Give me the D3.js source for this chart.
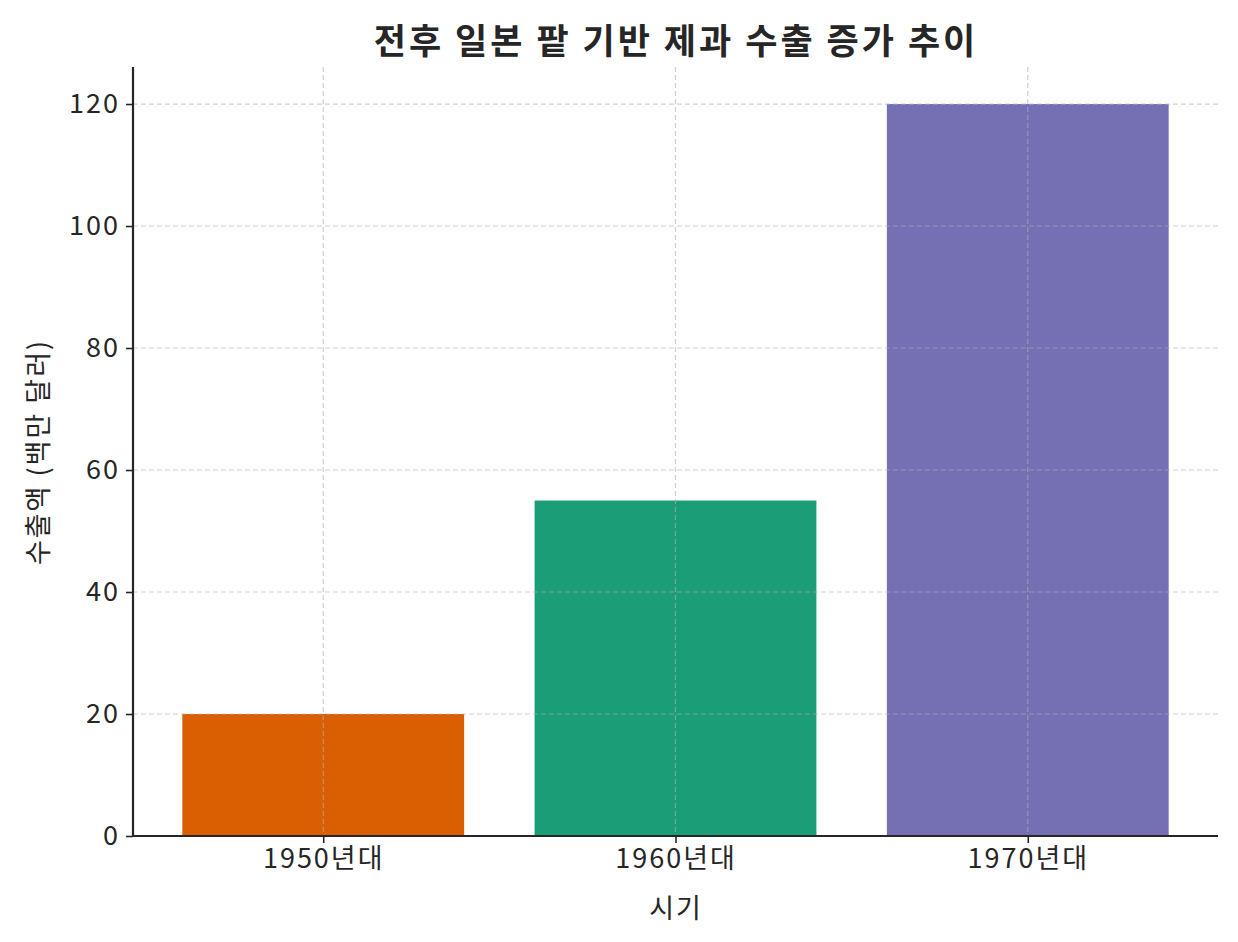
<!DOCTYPE html>
<html><head><meta charset="utf-8">
<script src="https://cdn.jsdelivr.net/npm/d3@7"></script>
<style>body{margin:0;background:#fff}text{font-family:"Noto Sans CJK KR","Noto Sans",sans-serif;fill:#262626}</style>
</head><body><svg id="c" width="1238" height="942"></svg>
<script>
var categories = ["1950년대", "1960년대", "1970년대"];
var exportValues = [20, 55, 120];
var barColors = ["#d95f02", "#1b9e77", "#7570b3"];
var yTicks = [0, 20, 40, 60, 80, 100, 120];

var svg = d3.select("#c");
var pLeft = 133, pRight = 1218, pTop = 67, pBottom = 836;
var x = d3.scaleLinear().domain([-0.54, 2.54]).range([pLeft, pRight]);
var y = d3.scaleLinear().domain([0, 126.07]).range([pBottom, pTop]);
var bw = x(0.8) - x(0);

// bars
svg.selectAll(".bar").data(exportValues).enter().append("rect")
	.attr("x", (d, i) => x(i) - bw / 2).attr("width", bw)
	.attr("y", d => y(d)).attr("height", d => pBottom - y(d))
	.attr("fill", (d, i) => barColors[i]);

// grid (drawn over bars, as in the reference)
svg.selectAll(".gy").data(yTicks).enter().append("line")
	.attr("x1", pLeft).attr("x2", pRight).attr("y1", d => y(d)).attr("y2", d => y(d))
	.attr("stroke", "#b0b0b0").attr("stroke-opacity", 0.6).attr("stroke-dasharray", "5,3").attr("stroke-width", 1.2);
svg.selectAll(".gx").data(categories).enter().append("line")
	.attr("x1", (d, i) => x(i)).attr("x2", (d, i) => x(i)).attr("y1", pTop).attr("y2", pBottom)
	.attr("stroke", "#b0b0b0").attr("stroke-opacity", 0.6).attr("stroke-dasharray", "5,3").attr("stroke-width", 1.2);

// axes
var ya = d3.axisLeft(y).tickValues(yTicks).tickSize(7).tickPadding(6);
var gy = svg.append("g").attr("transform", "translate(" + pLeft + ",0)").call(ya);
var xa = d3.axisBottom(x).tickValues([0, 1, 2]).tickFormat(i => categories[i]).tickSize(7).tickPadding(6);
var gx = svg.append("g").attr("transform", "translate(0," + pBottom + ")").call(xa);
[gx, gy].forEach(function(g) {
	g.select(".domain").attr("stroke", "#262626").attr("stroke-width", 2.2);
	g.selectAll(".tick line").attr("stroke", "#262626").attr("stroke-width", 1.6);
	g.selectAll(".tick text").attr("font-size", 27).attr("letter-spacing", 2).attr("fill", "#262626");
});
gy.select(".domain").attr("d", "M0," + pTop + "V" + pBottom);
gx.select(".domain").attr("d", "M" + pLeft + ",0H" + pRight);

svg.append("text").attr("x", 676).attr("y", 54).attr("text-anchor", "middle")
	.attr("font-size", 35).attr("letter-spacing", 3).attr("font-weight", "bold").text("전후 일본 팥 기반 제과 수출 증가 추이");
svg.append("text").attr("x", 676).attr("y", 918).attr("text-anchor", "middle")
	.attr("font-size", 27).attr("letter-spacing", 2).text("시기");
svg.append("text").attr("transform", "translate(48,452) rotate(-90)").attr("text-anchor", "middle")
	.attr("font-size", 27).attr("letter-spacing", 2).text("수출액 (백만 달러)");
</script></body></html>
